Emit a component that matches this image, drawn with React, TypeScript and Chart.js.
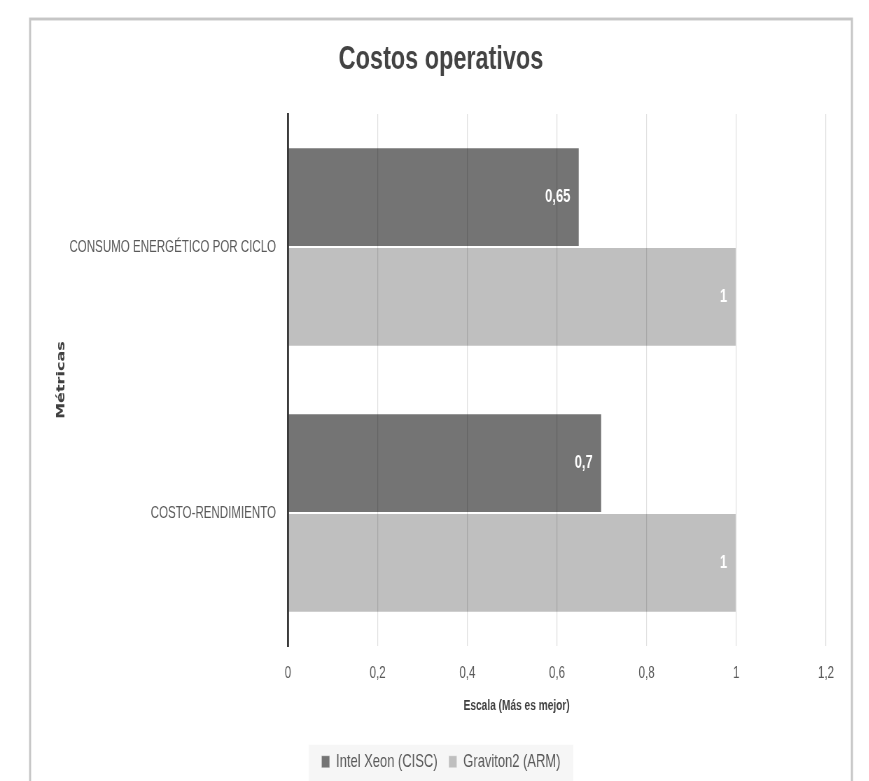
import React, { useEffect, useRef } from "react";
import { Chart, registerables } from "chart.js";

Chart.register(...registerables);

const chartTitle = "Costos operativos";
const categories = ["CONSUMO ENERGÉTICO POR CICLO", "COSTO-RENDIMIENTO"];
const seriesNames = ["Intel Xeon (CISC)", "Graviton2 (ARM)"];
const intelValues = [0.65, 0.7];
const gravitonValues = [1, 1];
const xTicks = [0, 0.2, 0.4, 0.6, 0.8, 1, 1.2];
const xAxisTitle = "Escala (Más es mejor)";
const yAxisTitle = "Métricas";

// The canvas is drawn wider and squeezed horizontally to mimic the condensed Calibri look.
const SQUEEZE = 0.7;
const CANVAS_W = 1241;
const CANVAS_H = 781;

const FONT = '"Liberation Sans", Arial, sans-serif';
const fmt = (v: number) => String(Math.round(v * 100) / 100).replace(".", ",");

const frame = {
  id: "frame",
  beforeDraw(chart: any) {
    const ctx = chart.ctx;
    ctx.save();
    ctx.fillStyle = "#ffffff";
    ctx.fillRect(0, 0, chart.width, chart.height);
    ctx.strokeStyle = "#c6c6c6";
    ctx.lineWidth = 2.9;
    ctx.strokeRect(43, 19, 1174, chart.height + 20);
    const lg = chart.legend;
    if (lg && lg.legendHitBoxes && lg.legendHitBoxes.length) {
      const boxes = lg.legendHitBoxes;
      const l = Math.min(...boxes.map((b: any) => b.left)) - 18;
      const r = Math.max(...boxes.map((b: any) => b.left + b.width)) + 18;
      const top = boxes[0].top + boxes[0].height / 2 - 17;
      ctx.fillStyle = "#f6f6f6";
      ctx.fillRect(l, top, r - l, chart.height - top);
    }
    ctx.restore();
  },
};

const extras = {
  id: "extras",
  afterDraw(chart: any) {
    const ctx = chart.ctx;
    ctx.save();
    ctx.font = `bold 18.5px ${FONT}`;
    ctx.fillStyle = "#ffffff";
    ctx.textAlign = "right";
    ctx.textBaseline = "middle";
    chart.data.datasets.forEach((ds: any, i: number) => {
      const meta = chart.getDatasetMeta(i);
      meta.data.forEach((bar: any, j: number) => {
        const { x, y } = bar.getProps(["x", "y"], true);
        ctx.fillText(fmt(ds.data[j]), x - 13, y);
      });
    });
    const ca = chart.chartArea;
    ctx.font = `bold 14.5px ${FONT}`;
    ctx.fillStyle = "#404040";
    ctx.textAlign = "center";
    ctx.fillText(xAxisTitle, ca.left + (ca.right - ca.left) * 0.425, 706);
    ctx.restore();
  },
};

export default function App() {
  const ref = useRef<HTMLCanvasElement | null>(null);
  useEffect(() => {
    if (!ref.current) return;
    const chart = new Chart(ref.current, {
      type: "bar",
      data: {
        labels: categories,
        datasets: [
          {
            label: seriesNames[0],
            data: intelValues,
            backgroundColor: "#747474",
            borderColor: "rgba(255,255,255,0.35)",
            borderWidth: 1,
            categoryPercentage: 0.75,
            barPercentage: 1,
          },
          {
            label: seriesNames[1],
            data: gravitonValues,
            backgroundColor: "#bfbfbf",
            borderColor: "rgba(255,255,255,0.35)",
            borderWidth: 1,
            categoryPercentage: 0.75,
            barPercentage: 1,
          },
        ],
      },
      options: {
        indexAxis: "y",
        responsive: false,
        animation: false,
        layout: { padding: { left: 80, right: 61, top: 0, bottom: 0 } },
        plugins: {
          title: {
            display: true,
            text: chartTitle,
            color: "#434343",
            font: { family: FONT, size: 33.5, weight: "bold" },
            padding: { top: 40, bottom: 33.8 },
          },
          legend: {
            position: "bottom",
            labels: {
              boxWidth: 11.5,
              boxHeight: 12,
              padding: 16,
              color: "#595959",
              font: { family: FONT, size: 18.5 },
            },
          },
          tooltip: { enabled: false },
        },
        scales: {
          x: {
            min: 0,
            max: 1.2,
            afterBuildTicks: (scale: any) => {
              scale.ticks = xTicks.map((v) => ({ value: v }));
            },
            afterFit: (scale: any) => {
              scale.height = 90.5;
            },
            ticks: {
              color: "#595959",
              font: { family: FONT, size: 16.5 },
              padding: 18,
              callback: (v: any) => fmt(Number(v)),
            },
            grid: { color: "rgba(0,0,0,0.12)", lineWidth: 1.2, drawTicks: false, z: 1 },
            border: { display: false },
          },
          y: {
            afterFit: (scale: any) => {
              scale.width = 331.4;
            },
            ticks: {
              color: "#595959",
              font: { family: FONT, size: 16.5 },
              padding: 17,
            },
            grid: { display: false, drawTicks: false },
            border: { display: true, color: "#3a3a3a", width: 2.9, z: 1 },
            title: {
              display: true,
              text: yAxisTitle,
              color: "#404040",
              font: { family: '"DejaVu Sans", Verdana, sans-serif', size: 16, weight: "bold", lineHeight: 1 },
              padding: 0,
            },
          },
        },
      },
      plugins: [frame, extras],
    } as any);
    return () => chart.destroy();
  }, []);
  return (
    <div
      style={{
        position: "absolute",
        left: 0,
        top: 0,
        width: 869,
        height: CANVAS_H,
        overflow: "hidden",
        background: "#fff",
      }}
    >
      <canvas
        ref={ref}
        width={CANVAS_W}
        height={CANVAS_H}
        style={{ display: "block", transform: `scaleX(${SQUEEZE})`, transformOrigin: "0 0" }}
      />
    </div>
  );
}
